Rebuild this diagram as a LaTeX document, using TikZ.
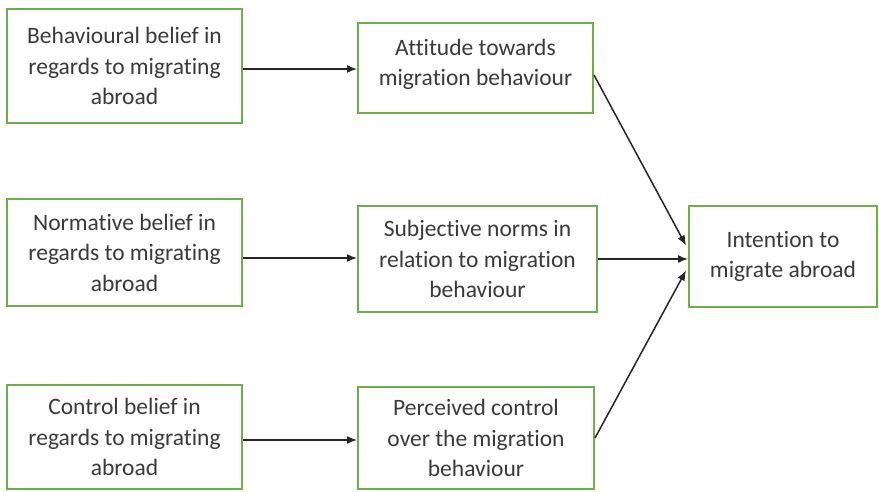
\documentclass[tikz,border=0pt]{standalone}
\usepackage{fontspec}
\setmainfont[Ligatures=NoCommon]{Carlito}
\usetikzlibrary{arrows.meta}
\usetikzlibrary{positioning}
\definecolor{boxgreen}{RGB}{112,173,71}
\definecolor{txtgrey}{RGB}{58,58,58}
\tikzset{
    box/.style={draw=boxgreen, line width=2pt, fill=white, align=center,
        text=txtgrey, inner sep=0pt,
        font=\fontsize{23.5}{30.5}\selectfont},
    flow/.style={draw=black!85, line width=1.5pt,
        -{Latex[length=10pt,width=8pt]}},
}
\begin{document}
\begin{tikzpicture}[x=1pt, y=-1pt]

\useasboundingbox (0,0) rectangle (879,491);

		% beliefs
		\node[box, minimum width=235pt, minimum height=114pt] (bel1) at (124.5,66) {Behavioural belief in\\regards to migrating\\abroad};
		\node[box, minimum width=235pt, minimum height=107pt] (bel2) at (124.5,252.5) {Normative belief in\\regards to migrating\\abroad};
		\node[box, minimum width=235pt, minimum height=104pt] (bel3) at (124.5,437) {Control belief in\\regards to migrating\\abroad};

		% attitudes, norms, control
		\node[box, minimum width=235pt, minimum height=90pt] (att) at (475.5,68) {Attitude towards\\migration behaviour\\[-28pt]\strut};
		\node[box, minimum width=239pt, minimum height=106pt] (norm) at (477.5,259) {Subjective norms in\\relation to migration\\behaviour};
		\node[box, minimum width=236pt, minimum height=102pt] (ctrl) at (476,438) {Perceived control\\over the migration\\behaviour};

		% intention
		\node[box, minimum width=188pt, minimum height=101pt] (int) at (783,256.5) {Intention to\\migrate abroad};

		\draw[flow] ([yshift=-3pt]bel1.east) -- ([yshift=-3pt]bel1.east -| att.west);
		\draw[flow] ([yshift=-5.5pt]bel2.east) -- ([yshift=-5.5pt]bel2.east -| norm.west);
		\draw[flow] ([yshift=-3pt]bel3.east) -- ([yshift=-3pt]bel3.east -| ctrl.west);

		\draw[flow] ([yshift=-7pt]att.east) -- ([yshift=11pt,xshift=-2pt]int.west);
		\draw[flow] (norm.east) -- (norm.east -| int.west);
		\draw[flow] (ctrl.east) -- ([yshift=-14pt,xshift=-2pt]int.west);
		%\draw[flow] (att) -- (int);
\end{tikzpicture}
\end{document}
